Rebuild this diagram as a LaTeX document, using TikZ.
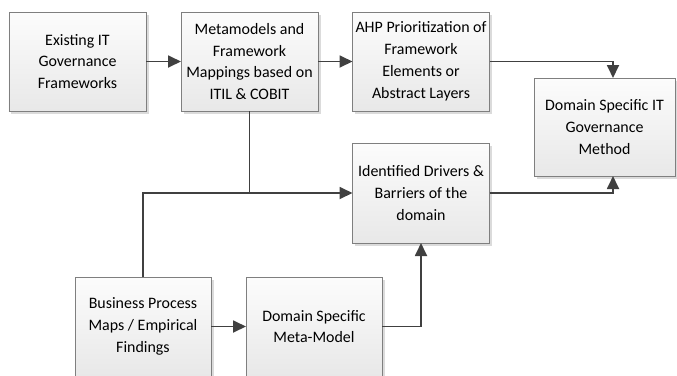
\documentclass[tikz,border=0pt]{standalone}
\usepackage{fontspec}
\setmainfont{Carlito}
\usetikzlibrary{arrows.meta,shadows}
\definecolor{lineclr}{HTML}{404040}
\definecolor{boxborder}{HTML}{7F7F7F}
\definecolor{boxtop}{HTML}{FCFCFC}
\definecolor{boxbot}{HTML}{E8E8E8}
\tikzset{
  box/.style={draw=boxborder, line width=0.9bp, top color=boxtop, bottom color=boxbot,
    minimum width=137bp, minimum height=99bp, inner sep=2bp, outer sep=0pt,
    align=center, font=\fontsize{16}{22}\selectfont,
    drop shadow={shadow xshift=2.5bp, shadow yshift=-2.5bp, fill=black!14, opacity=1}},
  conn/.style={draw=lineclr, line width=1.8bp},
  arr/.style={conn, -{Triangle[length=13bp,width=12bp]}}
}
\begin{document}
\begin{tikzpicture}[x=1bp,y=-1bp]
\useasboundingbox (0,0) rectangle (677,375);
\begin{scope}
\clip (0,0) rectangle (677,375);
\node[box] (b1) at (77.5,61.5) {Existing IT\\Governance\\Frameworks};
\node[box] (b2) at (249.5,61.5) {Metamodels and\\Framework\\Mappings based on\\ITIL \& COBIT};
\node[box] (b3) at (421,61.5) {AHP Prioritization of\\Framework\\Elements or\\Abstract Layers};
\node[box, minimum width=141bp, minimum height=98bp] (b4) at (604.5,127) {Domain Specific IT\\Governance\\Method};
\node[box, minimum height=100bp] (b5) at (421,193) {Identified Drivers \&\\Barriers of the\\domain};
\node[box, minimum width=136bp] (b6) at (143,326.5) {Business Process\\Maps / Empirical\\Findings};
\node[box, minimum width=136bp] (b7) at (314,326.5) {Domain Specific\\Meta-Model};

\draw[arr] (b1.east) -- (b2.west);
\draw[arr] (b2.east) -- (b3.west);
\draw[arr] (b3.east) -| ([xshift=8.5bp]b4.north);
\draw[arr] (b5.east) -| ([xshift=8.5bp]b4.south);
\draw[conn] (b2.south) -- (b2.south |- b5.west);
\draw[arr] (b6.north) |- (b5.west);
\draw[arr] (b6.east) -- (b7.west);
\draw[arr] (b7.east) -| (b5.south);
\end{scope}
\end{tikzpicture}
\end{document}
